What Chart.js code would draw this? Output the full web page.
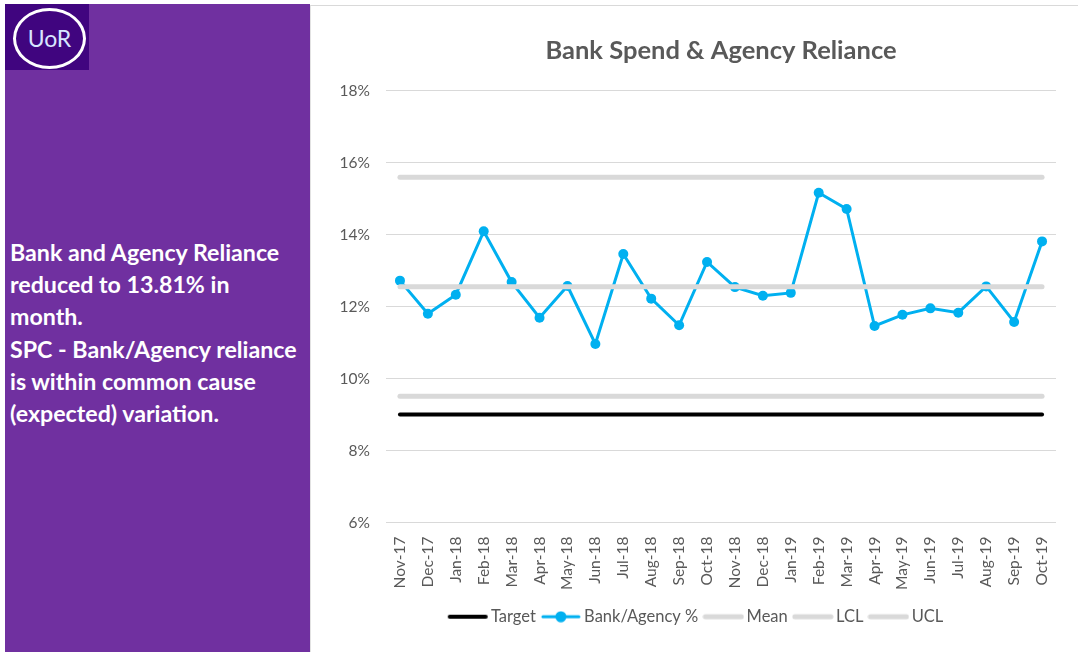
<!DOCTYPE html>
<html>
<head>
<meta charset="utf-8">
<script src="https://cdn.jsdelivr.net/npm/chart.js@4/dist/chart.umd.min.js"></script>
<style>
  html, body { margin: 0; padding: 0; }
  body { width: 1078px; height: 652px; position: relative; overflow: hidden; background: #fff; font-family: Lato, sans-serif; }
  #panel { position: absolute; left: 5px; top: 4px; width: 305px; height: 648px; background: #7030a0; }
  #logo { position: absolute; left: 0; top: 0; width: 84px; height: 66px; background: #40057f; }
  #logo .ring { position: absolute; left: 8px; top: 4px; width: 67px; height: 55px; border: 3px solid #fff; border-radius: 50%;
    color: #d8e6ff; font-size: 23px; line-height: 55px; text-align: center; }
  #note { position: absolute; left: 5px; top: 232px; width: 305px; color: #fff; font-weight: bold; font-size: 23.2px; line-height: 32.2px; white-space: nowrap; }
  #box { position: absolute; left: 310px; top: 5px; width: 768px; height: 647px; border-top: 1px solid #d9d9d9; border-left: 1px solid #e2e2e2; }
  #chart { position: absolute; left: 1px; top: 0; }
</style>
</head>
<body>
<div id="panel">
  <div id="logo"><div class="ring">UoR</div></div>
  <div id="note">Bank and Agency Reliance<br>reduced to 13.81% in<br>month.<br>SPC - Bank/Agency reliance<br>is within common cause<br>(expected) variation.</div>
</div>
<div id="box"><canvas id="chart" width="766" height="646"></canvas></div>
<script>
const MONTHS = ['Nov-17','Dec-17','Jan-18','Feb-18','Mar-18','Apr-18','May-18','Jun-18','Jul-18','Aug-18','Sep-18','Oct-18',
  'Nov-18','Dec-18','Jan-19','Feb-19','Mar-19','Apr-19','May-19','Jun-19','Jul-19','Aug-19','Sep-19','Oct-19']
const BANK_AGENCY = [12.72, 11.80, 12.33, 14.09, 12.68, 11.69, 12.57, 10.96, 13.46, 12.22, 11.48, 13.24,
  12.54, 12.30, 12.38, 15.16, 14.71, 11.46, 11.77, 11.95, 11.83, 12.56, 11.57, 13.81]
const TARGET = 9.0
const MEAN = 12.55
const LCL = 9.51
const UCL = 15.59
const Y_TICKS = [6, 8, 10, 12, 14, 16, 18]

const GREY = '#d9d9d9'
const TEXT = '#595959'

// flat reference lines across every month
const flat = v => MONTHS.map(() => v)

// little line sample used as the legend symbol
function legendSwatch(color, width, dot) {
  const c = document.createElement('canvas')
  c.width = 42; c.height = 12
  const g = c.getContext('2d')
  g.strokeStyle = color
  g.lineWidth = width
  g.lineCap = 'round'
  g.beginPath(); g.moveTo(3, 6); g.lineTo(39, 6); g.stroke()
  if (dot) {
    g.fillStyle = color
    g.beginPath(); g.arc(21, 6, 5.5, 0, Math.PI * 2); g.fill()
  }
  return c
}

function refLine(label, data, color, width, order) {
  return {
    label, data, order,
    borderColor: color, backgroundColor: color,
    borderWidth: width, borderCapStyle: 'round',
    pointRadius: 0, pointHoverRadius: 0,
    swatch: legendSwatch(color, width, false),
  }
}

const datasets = [
  refLine('Target', flat(TARGET), '#000000', 4, 3),
  {
    label: 'Bank/Agency %', data: BANK_AGENCY, order: 2,
    borderColor: '#00b0f0', backgroundColor: '#00b0f0',
    borderWidth: 3, pointRadius: 5, pointBorderWidth: 0, tension: 0,
    swatch: legendSwatch('#00b0f0', 3, true),
  },
  refLine('Mean', flat(MEAN), GREY, 5, 1),
  refLine('LCL', flat(LCL), GREY, 5, 1),
  refLine('UCL', flat(UCL), GREY, 5, 1),
]

new Chart(document.getElementById('chart'), {
  type: 'line',
  data: { labels: MONTHS, datasets },
  options: {
    responsive: false,
    animation: false,
    events: [],
    // some left padding so the legend sits a little right of the canvas centre
    layout: { padding: { left: 28, right: 22, top: 0, bottom: 17 } },
    plugins: {
      title: {
        display: true,
        fullSize: false,
        text: 'Bank Spend & Agency Reliance',
        color: TEXT,
        font: { family: 'Lato', size: 25.5, weight: 'bold' },
        padding: { top: 29, bottom: 25 },
      },
      legend: {
        position: 'bottom',
        labels: {
          color: TEXT,
          font: { family: 'Lato', size: 16.5 },
          usePointStyle: true,
          pointStyleWidth: 30,
          padding: 10,
          generateLabels: chart => chart.data.datasets.map((ds, i) => ({
            text: ds.label,
            pointStyle: ds.swatch,
            fillStyle: ds.borderColor,
            strokeStyle: ds.borderColor,
            lineWidth: 0,
            fontColor: TEXT,
            datasetIndex: i,
            hidden: false,
          })),
        },
      },
      tooltip: { enabled: false },
    },
    scales: {
      x: {
        offset: true,
        grid: { display: false },
        border: { display: false },
        ticks: {
          color: TEXT,
          font: { family: 'Lato', size: 15.5 },
          minRotation: 90, maxRotation: 90,
          autoSkip: false,
          padding: 6,
        },
        afterFit: s => { s.height = 76 },
      },
      y: {
        min: 6, max: 18,
        afterBuildTicks: s => { s.ticks = Y_TICKS.map(v => ({ value: v })) },
        grid: { color: GREY, lineWidth: 1, drawTicks: false },
        border: { display: false },
        ticks: {
          color: TEXT,
          font: { family: 'Lato', size: 15.5 },
          padding: 16,
          callback: v => v + '%',
        },
        afterFit: s => { s.width = 46 },
      },
    },
  },
})
</script>
</body>
</html>
